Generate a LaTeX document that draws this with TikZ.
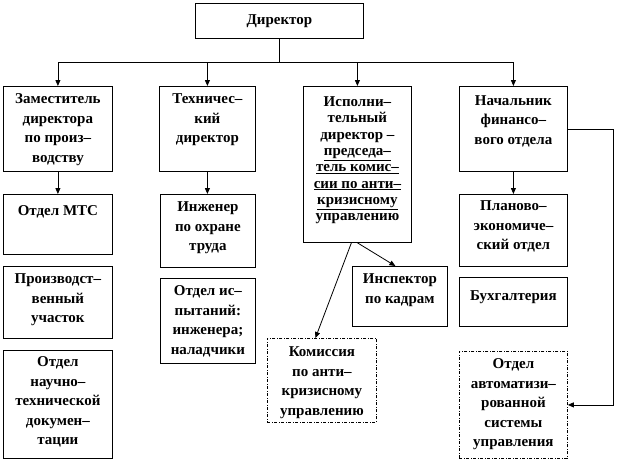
\documentclass[tikz,border=0pt]{standalone}
\usepackage{fontspec}
\setmainfont{Liberation Serif}
\usetikzlibrary{arrows.meta}
\begin{document}
\begin{tikzpicture}[x=1pt,y=-1pt,
  box/.style={draw, line width=0.8pt, inner sep=0pt, anchor=north west},
  dbox/.style={box, dash pattern=on 3pt off 1.5pt on 1pt off 1.5pt},
  txt/.style={inner sep=0pt, align=center, anchor=north, font=\fontsize{15}{19.5}\selectfont\bfseries},
  txtb/.style={txt, font=\fontsize{15}{16.3}\selectfont\bfseries},
  ln/.style={line width=0.8pt},
  arr/.style={ln, -{Triangle[length=6pt,width=5pt]}}]
\useasboundingbox (0,0) rectangle (617,471);
% boxes
\node[box, minimum width=168pt, minimum height=35pt, font=\fontsize{15}{19.5}\selectfont\bfseries] (dir) at (195,3) {Директор};
\node[box, minimum width=109pt, minimum height=85pt] (b1) at (3,86) {};
\node[box, minimum width=96pt, minimum height=85pt] (b2) at (159,86) {};
\node[box, minimum width=108pt, minimum height=156pt] (b3) at (303,86) {};
\node[box, minimum width=108pt, minimum height=85pt] (b4) at (459,86) {};
\node[box, minimum width=109pt, minimum height=60pt] (mts) at (3,194) {};
\node[box, minimum width=109pt, minimum height=72pt] (proiz) at (3,266) {};
\node[box, minimum width=109pt, minimum height=108pt] (nauch) at (3,350) {};
\node[box, minimum width=95pt, minimum height=73pt] (ing) at (160,194) {};
\node[box, minimum width=95pt, minimum height=85pt] (test) at (160,278) {};
\node[box, minimum width=95pt, minimum height=60pt] (insp) at (352,266) {};
\node[dbox, minimum width=109pt, minimum height=84pt] (kom) at (267,338) {};
\node[box, minimum width=108pt, minimum height=72pt] (plan) at (459,194) {};
\node[box, minimum width=108pt, minimum height=49pt] (buh) at (459,277) {};
\node[dbox, minimum width=108pt, minimum height=107pt] (avt) at (459,351) {};
% texts
\node[txt] (t1) at ([yshift=-7.5pt]b1.north) {Заместитель\\директора\\по произ–\\водству};
\node[txt] (t2) at ([yshift=-7.5pt]b2.north) {Техничес–\\кий\\директор};
\node[txtb] (t3) at ([yshift=-10.5pt]b3.north) {Исполни–\\тельный\\директор –\\\underline{председа–}\\\underline{тель комис–}\\\underline{сии по анти–}\\\underline{кризисному}\\управлению};
\node[txt] (t4) at ([yshift=-9pt]b4.north) {Начальник\\финансо–\\вого отдела};
\node[txt] (t5) at ([yshift=-11.5pt]mts.north) {Отдел МТС};
\node[txt] (t6) at ([yshift=-7.5pt]proiz.north) {Производст–\\венный\\участок};
\node[txt] (t7) at ([yshift=-6.5pt]nauch.north) {Отдел\\научно–\\технической\\докумен–\\тации};
\node[txt] (t8) at ([yshift=-7.5pt]ing.north) {Инженер\\по охране\\труда};
\node[txt] (t9) at ([yshift=-7.5pt]test.north) {Отдел ис–\\пытаний:\\инженера;\\наладчики};
\node[txt] (t10) at ([yshift=-7.5pt]insp.north) {Инспектор\\по кадрам};
\node[txt] (t11) at ([yshift=-8.5pt]kom.north) {Комиссия\\по анти–\\кризисному\\управлению};
\node[txt] (t12) at ([yshift=-6.5pt]plan.north) {Планово–\\экономиче–\\ский отдел};
\node[txt] (t13) at ([yshift=-13.5pt]buh.north) {Бухгалтерия};
\node[txt] (t14) at ([yshift=-7.5pt]avt.north) {Отдел\\автоматизи–\\рованной\\системы\\управления};
% connectors
\draw[ln] (dir.south) -- ++(0,24) coordinate (bus);
\draw[arr] (bus) -| (b1.north);
\draw[arr] (bus) -| (b2.north);
\draw[arr] (bus) -| (b3.north);
\draw[arr] (bus) -| (b4.north);
\draw[arr] (b1.south) -- (mts.north);
\draw[arr] (b2.south) -- (b2.south |- ing.north);
\draw[arr] (b4.south) -- (plan.north);
\draw[arr] (b3.south) -- ([xshift=-4.5pt]insp.north);
\draw[arr] ([xshift=-6pt]b3.south) -- ([xshift=-6.5pt]kom.north);
\draw[arr] (b4.east) -- ++(46,0) |- (avt.east);
\end{tikzpicture}
\end{document}
